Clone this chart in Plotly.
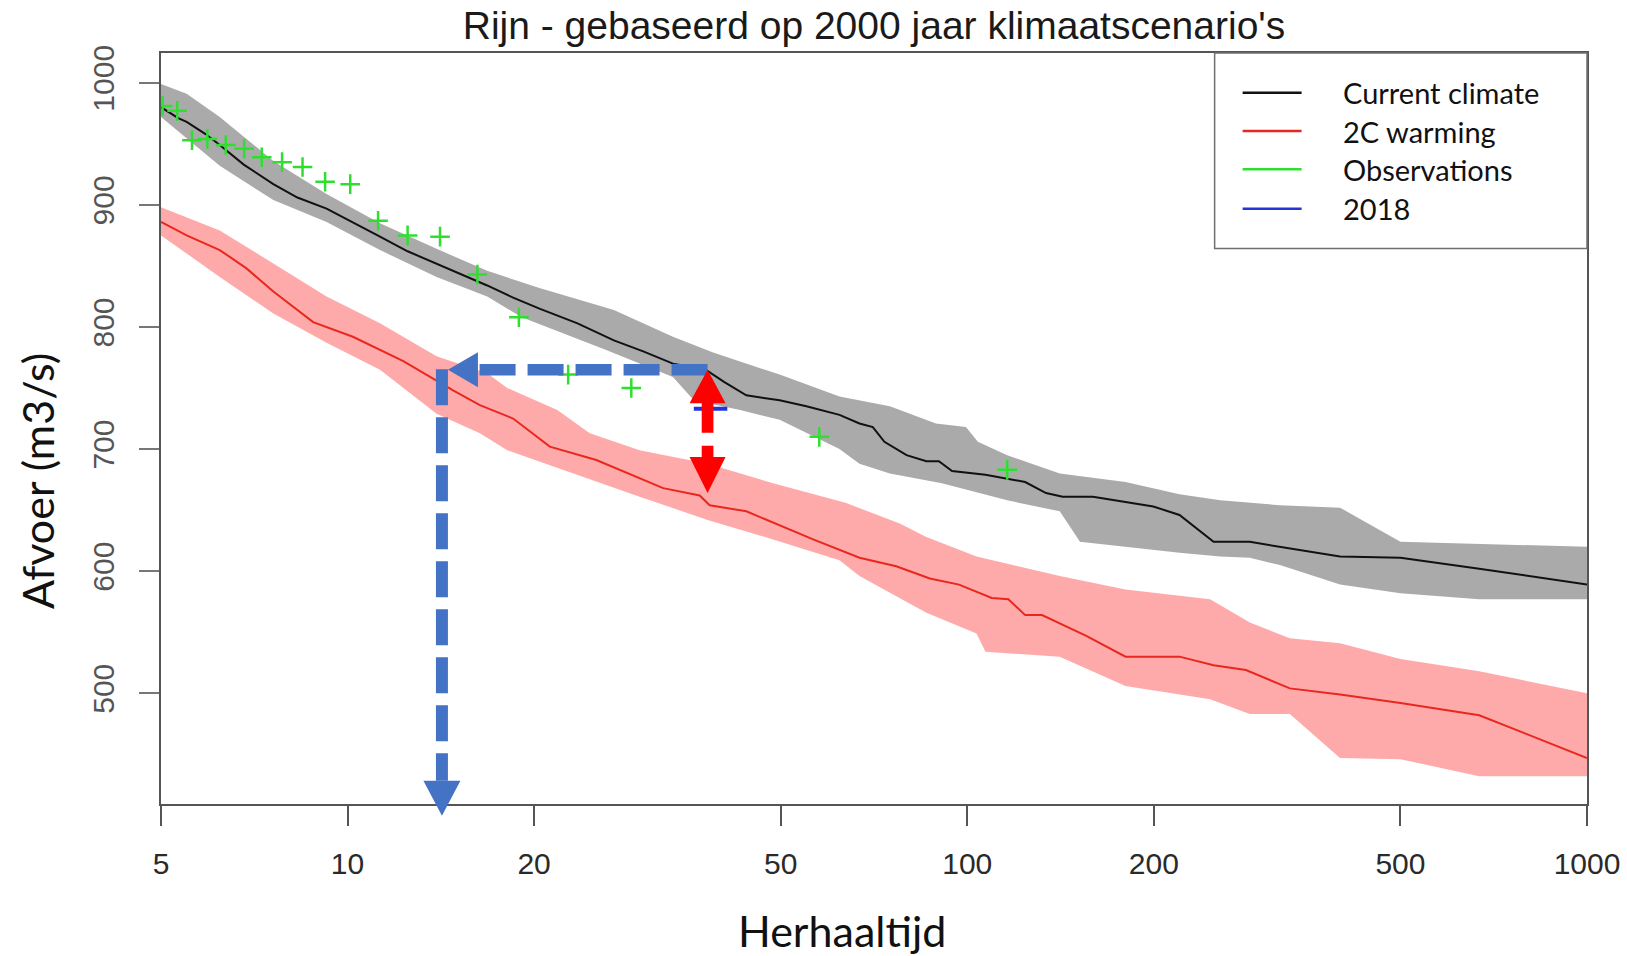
import math
import plotly.graph_objects as go

# ---------------- data ----------------
# Current climate: median line (return period in years, discharge m3/s)
current_T = [5.0, 5.33, 5.5, 5.9, 6.22, 6.8, 7.59, 8.3, 9.25, 10.2, 11.28, 12.5, 13.92, 15.3, 16.8,
             18.5, 20.4, 23.5, 26.9, 30.0, 33.5, 36.0, 38.1, 40.5, 44.0, 49.8, 55.0, 62.2, 67.0, 70.4,
             73.5, 79.8, 85.9, 90.0, 94.5, 107, 115, 124, 134, 142.5, 159.5, 180, 199.6, 220, 249.7,
             285.7, 319.5, 399.5, 500, 670, 1000]
current_Q = [980, 971, 968, 958, 949, 933, 917, 906, 897, 886, 874, 862, 852, 843, 834,
             824, 815, 803, 789, 780, 770, 767, 764, 755, 744, 740, 735, 728, 721, 718,
             706, 695, 690, 690, 682, 679, 676, 673, 664, 661, 661, 657, 653, 646, 624,
             624, 620, 612, 611, 602, 589]
# Current climate: uncertainty band
current_upper_T = [5.0, 5.5, 6.22, 7.59, 9.25, 11.28, 13.92, 16.8, 20.4, 26.9, 33.5, 38.9, 49.8, 62.2,
                   75, 89, 99.5, 104, 116, 141, 180, 220, 256, 319.5, 399.5, 500, 1000]
current_upper_Q = [999, 991, 972, 936, 909, 885, 864, 846, 832, 814, 792, 779, 761, 743,
                   735, 721, 718, 706, 695, 680, 673, 663, 658, 654, 652, 624, 620]
current_lower_T = [5.0, 6.22, 7.59, 9.25, 11.28, 13.92, 16.8, 19.1, 20.4, 26.2, 33.5, 36.2, 43, 49.8,
                   62.2, 67, 75, 91, 116, 141, 152, 220, 256, 285.7, 319.5, 399.5, 500, 670, 1000]
current_lower_Q = [972, 932, 904, 886, 863, 841, 825, 808, 802, 781, 759, 740, 732, 724,
                   700, 688, 680, 672, 658, 649, 624, 615, 612, 611, 605, 589, 582, 577, 577]

# 2C warming: median line
warm_T = [5.0, 5.5, 6.22, 6.87, 7.59, 8.8, 10.2, 12.3, 14.8, 16.35, 18.5, 21.2, 25.2, 32.3, 37, 38.4,
          44, 56.4, 67, 76.8, 87, 97, 109.5, 116.5, 124, 132, 155.6, 180, 220, 249.7, 281.6, 331.5,
          399.5, 500, 670, 1000]
warm_Q = [886, 875, 863, 848, 829, 804, 792, 772, 748, 736, 725, 702, 691, 668, 662, 654,
          649, 626, 611, 604, 594, 589, 578, 577, 564, 564, 547, 530, 530, 523, 519, 504,
          499, 492, 482, 447]
# 2C warming: uncertainty band
warm_upper_T = [5.0, 6.22, 7.59, 9.25, 11.28, 13.92, 16.8, 18.1, 21.8, 24.6, 29.6, 38.1, 48.6, 63.6,
                77.8, 85.9, 103.5, 141, 180, 246.5, 285.7, 331.5, 399.5, 500, 670, 1000]
warm_upper_Q = [898, 879, 852, 825, 803, 776, 762, 750, 732, 713, 699, 688, 672, 656,
                639, 628, 612, 596, 585, 577, 558, 545, 541, 528, 518, 500]
warm_lower_T = [5.0, 6.22, 7.59, 9.25, 11.28, 13.92, 16.35, 18.1, 20.95, 23.2, 29.6, 38.1, 48.6, 62.2,
                67, 85.9, 103.5, 107, 141, 180, 246.5, 285.7, 331.5, 399.5, 500, 670, 1000]
warm_lower_Q = [875, 841, 811, 787, 765, 729, 713, 699, 688, 680, 661, 642, 626, 609,
                596, 566, 549, 534, 530, 506, 495, 483, 483, 447, 446, 432, 432]

# Observations
obs_T = [5.03, 5.31, 5.61, 5.94, 6.36, 6.81, 7.27, 7.84, 8.46, 9.20, 10.1, 11.2, 12.5, 14.1,
         16.2, 18.9, 22.7, 28.7, 57.7, 116]
obs_Q = [981, 977, 953, 954, 949, 946, 939, 935, 931, 919, 917, 887, 875, 874,
         843, 808, 761, 750, 710, 683]

# 2018 event
y2018_T = [36.2, 41.0]
y2018_Q = [733, 733]

# Overlay arrows (annotation)
arrow_T_current = 38.1     # return period of the level under current climate
arrow_T_warm = 14.2        # same level under 2C warming
arrow_Q = 765              # discharge level
arrow_Q_warm = 664         # lower end of the red arrow

x_ticks = [5, 10, 20, 50, 100, 200, 500, 1000]
x_tick_labels = ["5", "10", "20", "50", "100", "200", "500", "1000"]
y_ticks = [500, 600, 700, 800, 900, 1000]
y_tick_labels = ["500", "600", "700", "800", "900", "1000"]

legend_names = ["Current climate", "2C warming", "Observations", "2018"]

# ---------------- styling ----------------
W, H = 1627, 956
ML, MR, MT, MB = 161, 39.5, 52.5, 151.5
PW, PH = W - ML - MR, H - MT - MB
X_RANGE = [math.log10(5), math.log10(1000)]
Y_RANGE = [409.3, 1024.4]

C_BLACK = "#111111"
C_RED = "#e8281e"
C_GREEN = "#2fdf2f"
C_BLUE = "#2435d6"
C_GRAY_BAND = "#aaaaaa"
C_PINK_BAND = "#ffaaaa"
C_ARROW_BLUE = "#4472C4"
C_ARROW_RED = "#ff0000"


def t_shift(t, dpx):
    """shift a return period by dpx pixels to the right on the log axis"""
    return t * 10 ** (dpx * (X_RANGE[1] - X_RANGE[0]) / PW)


def q_shift(q, dpx):
    """shift a discharge by dpx pixels downward"""
    return q - dpx * (Y_RANGE[1] - Y_RANGE[0]) / PH


fig = go.Figure()

fig.add_trace(go.Scatter(x=current_upper_T + current_lower_T[::-1],
                         y=current_upper_Q + current_lower_Q[::-1],
                         fill="toself", fillcolor=C_GRAY_BAND, line=dict(width=0),
                         mode="lines", showlegend=False, hoverinfo="skip"))
fig.add_trace(go.Scatter(x=warm_upper_T + warm_lower_T[::-1],
                         y=warm_upper_Q + warm_lower_Q[::-1],
                         fill="toself", fillcolor=C_PINK_BAND, line=dict(width=0),
                         mode="lines", showlegend=False, hoverinfo="skip"))
fig.add_trace(go.Scatter(x=current_T, y=current_Q, mode="lines", name=legend_names[0],
                         line=dict(color=C_BLACK, width=2), showlegend=False))
fig.add_trace(go.Scatter(x=warm_T, y=warm_Q, mode="lines", name=legend_names[1],
                         line=dict(color=C_RED, width=2), showlegend=False))
fig.add_trace(go.Scatter(x=obs_T, y=obs_Q, mode="markers", name=legend_names[2],
                         marker=dict(symbol="cross-thin", size=14,
                                     line=dict(color=C_GREEN, width=2.5)),
                         showlegend=False))
fig.add_trace(go.Scatter(x=y2018_T, y=y2018_Q, mode="lines", name=legend_names[3],
                         line=dict(color=C_BLUE, width=4), showlegend=False))

shapes = []
# --- blue dashed arrow: horizontal part ---
shapes.append(dict(type="line", xref="x", yref="y", layer="above",
                   x0=arrow_T_current, y0=arrow_Q, x1=t_shift(arrow_T_warm, 36), y1=arrow_Q,
                   line=dict(color=C_ARROW_BLUE, width=11.5, dash="36px,12px")))
shapes.append(dict(type="path", xref="x", yref="y", layer="above",
                   xsizemode="pixel", ysizemode="pixel",
                   xanchor=arrow_T_warm, yanchor=arrow_Q,
                   path="M 6,0 L 36,17.5 L 36,-17.5 Z",
                   fillcolor=C_ARROW_BLUE, line=dict(width=0)))
# --- blue dashed arrow: vertical part ---
shapes.append(dict(type="line", xref="x", yref="y", layer="above",
                   x0=arrow_T_warm, y0=q_shift(arrow_Q, -0.5), x1=arrow_T_warm,
                   y1=q_shift(Y_RANGE[0], -23.3),
                   line=dict(color=C_ARROW_BLUE, width=12, dash="36px,12px")))
shapes.append(dict(type="path", xref="x", yref="paper", layer="above",
                   xsizemode="pixel", ysizemode="pixel",
                   xanchor=arrow_T_warm, yanchor=0,
                   path="M -18.5,23.3 L 18.5,23.3 L 0,-11.7 Z",
                   fillcolor=C_ARROW_BLUE, line=dict(width=0)))
# --- red double arrow ---
shapes.append(dict(type="path", xref="x", yref="y", layer="above",
                   xsizemode="pixel", ysizemode="pixel",
                   xanchor=arrow_T_current, yanchor=arrow_Q,
                   path="M 0,0 L -18,-33.5 L 18,-33.5 Z",
                   fillcolor=C_ARROW_RED, line=dict(width=0)))
shapes.append(dict(type="line", xref="x", yref="y", layer="above",
                   x0=arrow_T_current, y0=q_shift(arrow_Q, 33), x1=arrow_T_current,
                   y1=q_shift(arrow_Q_warm, -35.5),
                   line=dict(color=C_ARROW_RED, width=11.7, dash="30px,13px")))
shapes.append(dict(type="path", xref="x", yref="y", layer="above",
                   xsizemode="pixel", ysizemode="pixel",
                   xanchor=arrow_T_current, yanchor=arrow_Q_warm,
                   path="M 0,0 L -18,36 L 18,36 Z",
                   fillcolor=C_ARROW_RED, line=dict(width=0)))

# --- legend box (drawn like the R legend) ---
def px_x(px):
    return (px - ML) / PW


def px_y(py):
    return (H - MB - py) / PH


shapes.append(dict(type="rect", xref="paper", yref="paper", layer="above",
                   x0=px_x(1215), x1=1, y0=px_y(248.3), y1=1,
                   line=dict(color="#6f6f6f", width=1.5), fillcolor="white"))
legend_colors = [C_BLACK, C_RED, C_GREEN, C_BLUE]
legend_rows = [92.3, 130.7, 169, 208.5]
annotations = []
for name, col, ry in zip(legend_names, legend_colors, legend_rows):
    shapes.append(dict(type="line", xref="paper", yref="paper", layer="above",
                       x0=px_x(1243), x1=px_x(1302), y0=px_y(ry), y1=px_y(ry),
                       line=dict(color=col, width=2.5)))
    annotations.append(dict(text=name, xref="paper", yref="paper", x=px_x(1341), y=px_y(ry),
                            xanchor="left", yanchor="middle", showarrow=False,
                            font=dict(family="Lato", size=29, color="#111111")))

# axis titles
annotations.append(dict(text="Afvoer (m3/s)", xref="paper", yref="paper",
                        x=px_x(38), y=px_y(481), textangle=-90, showarrow=False,
                        xanchor="center", yanchor="middle",
                        font=dict(family="Lato", size=43, color="#111111")))
annotations.append(dict(text="Herhaaltijd", xref="paper", yref="paper",
                        x=px_x(842), y=px_y(931), showarrow=False,
                        xanchor="center", yanchor="middle",
                        font=dict(family="Lato", size=43, color="#111111")))

fig.update_layout(
    width=W, height=H,
    template="none",
    paper_bgcolor="white", plot_bgcolor="white",
    margin=dict(l=ML, r=MR, t=MT, b=MB, pad=0, autoexpand=False),
    showlegend=False,
    title=dict(text="Rijn - gebaseerd op 2000 jaar klimaatscenario's",
               x=0.5, xref="paper", xanchor="center",
               y=1 - 25 / H, yref="container", yanchor="middle",
               font=dict(family="Liberation Sans", size=39, color="#1a1a1a")),
    xaxis=dict(type="log", range=X_RANGE, tickvals=x_ticks, ticktext=x_tick_labels,
               showgrid=False, zeroline=False, showline=True, mirror=True,
               linecolor="#555555", linewidth=2,
               ticks="outside", ticklen=20, tickwidth=2, tickcolor="#555555",
               ticklabelstandoff=12, automargin=False,
               tickfont=dict(family="Liberation Sans", size=30, color="#2a2a2a")),
    yaxis=dict(range=Y_RANGE, tickvals=y_ticks, ticktext=y_tick_labels,
               showgrid=False, zeroline=False, showline=True, mirror=True,
               linecolor="#555555", linewidth=2,
               ticks="outside", ticklen=20, tickwidth=2, tickcolor="#777777",
               tickangle=-90, ticklabelstandoff=13, automargin=False,
               tickfont=dict(family="Liberation Sans", size=30, color="#555555")),
    shapes=shapes,
    annotations=annotations,
)

fig.write_html("out.html")
